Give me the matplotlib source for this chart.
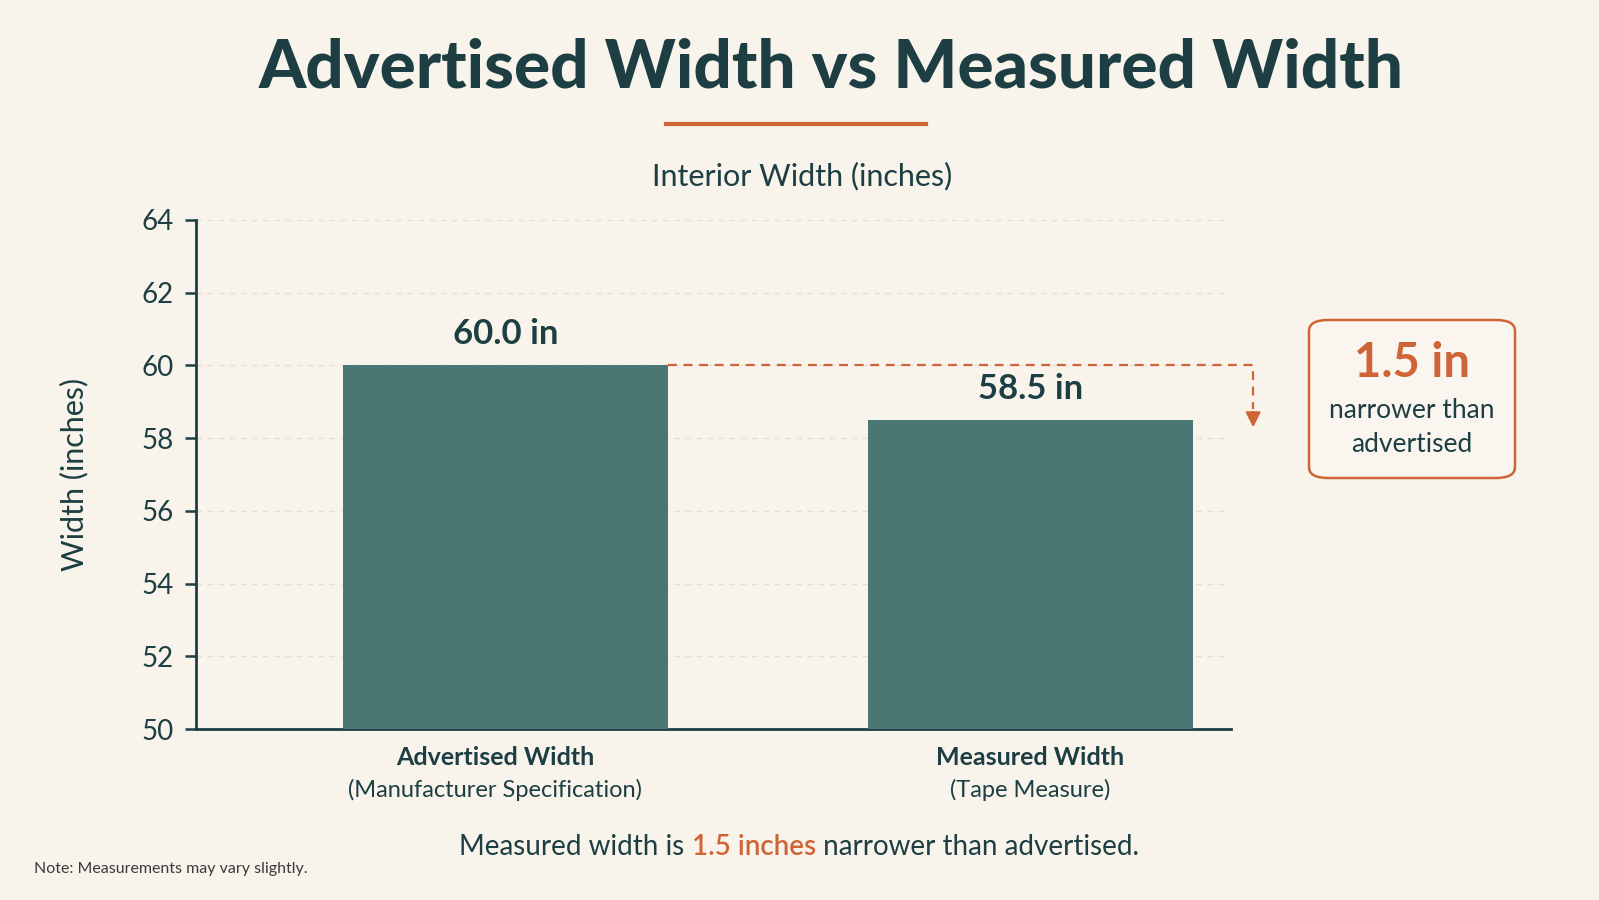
import matplotlib
matplotlib.use('Agg')
import matplotlib.pyplot as plt
from matplotlib.patches import FancyBboxPatch

# data
categories = ['Advertised Width', 'Measured Width']
subtitles = ['(Manufacturer Specification)', '(Tape Measure)']
widths = [60.0, 58.5]
y_ticks = [50, 52, 54, 56, 58, 60, 62, 64]
difference = widths[0] - widths[1]

bg = '#F8F4EC'
dark = '#1D3E42'
teal = '#4A7674'
orange = '#CF6437'
grid_col = '#E4DED3'

plt.rcParams['font.family'] = ['Lato', 'DejaVu Sans']

fig = plt.figure(figsize=(15.99, 9), dpi=100, facecolor=bg)
ax = fig.add_axes([0.1226, 0.19, 0.647, 0.5656])
ax.set_facecolor(bg)

x = list(range(len(categories)))
ax.bar(x, [w - 50 for w in widths], bottom=50, width=0.62, color=teal, zorder=3)
ax.set_xlim(-0.589, 1.381)
ax.set_ylim(50, 64)
ax.set_yticks(y_ticks)
ax.set_yticklabels([str(t) for t in y_ticks], fontsize=20, color=dark)
ax.tick_params(axis='y', length=8, width=1.8, color=dark, pad=8)
ax.set_xticks([])
for t in y_ticks[1:]:
    ax.axhline(t, color=grid_col, lw=1, ls=(0, (4, 4)), zorder=1)
for s in ['top', 'right']:
    ax.spines[s].set_visible(False)
for s in ['left', 'bottom']:
    ax.spines[s].set_color(dark)
    ax.spines[s].set_linewidth(2)
ax.set_ylabel('Width (inches)', fontsize=22, color=dark, labelpad=38)

# value labels
for xi, w in zip(x, widths):
    ax.text(xi, w + 0.85, f'{w:.1f} in', ha='center', va='center',
            fontsize=25, fontweight='bold', color=dark)

# category labels
for xi, c, s in zip(x, categories, subtitles):
    ax.text(xi - 0.02 * (1 - xi), 49.22, c, ha='center', va='center', fontsize=18,
            fontweight='bold', color=dark)
    ax.text(xi - 0.02 * (1 - xi), 48.33, s, ha='center', va='center', fontsize=17,
            color=dark, clip_on=False)

# dashed connector to the measured bar
x_end = 1.424
ax.plot([0.31, x_end, x_end], [widths[0], widths[0], 58.8], color=orange,
        lw=1.6, ls=(0, (4, 3)), clip_on=False, zorder=4)
ax.annotate('', xy=(x_end, 58.22), xytext=(x_end, 58.8),
            arrowprops=dict(arrowstyle='-|>,head_length=0.9,head_width=0.45',
                            color=orange, lw=1.6), annotation_clip=False)

# callout box
box = FancyBboxPatch((1309 / 1599, 1 - 478 / 900), 206 / 1599, 158 / 900,
                     boxstyle='round,pad=0,rounding_size=0.012',
                     transform=fig.transFigure, facecolor='#FAF6EF',
                     edgecolor=orange, lw=1.8)
fig.patches.append(box)
fig.text(1412 / 1599, 1 - 363 / 900, f'{difference:.1f} in', ha='center', va='center',
         fontsize=34, fontweight='bold', color=orange)
fig.text(1412 / 1599, 1 - 411 / 900, 'narrower than', ha='center', va='center',
         fontsize=19, color=dark)
fig.text(1412 / 1599, 1 - 444 / 900, 'advertised', ha='center', va='center',
         fontsize=19, color=dark)

# title
fig.text(831 / 1599, 1 - 69 / 900, 'Advertised Width vs Measured Width', ha='center',
         va='center', fontsize=48.5, fontweight='black', color=dark)
fig.add_artist(plt.Line2D([666 / 1599, 926 / 1599], [1 - 124 / 900, 1 - 124 / 900],
                          color=orange, lw=3))
fig.text(802 / 1599, 1 - 176 / 900, 'Interior Width (inches)', ha='center', va='center',
         fontsize=22, color=dark)

# summary line with highlighted value
parts = [('Measured width is ', dark, 'normal'),
         (f'{difference:.1f} inches', orange, 'semibold'),
         (' narrower than advertised.', dark, 'normal')]
fig.canvas.draw()
r = fig.canvas.get_renderer()
texts = []
for s, c, wgt in parts:
    t = fig.text(0, 1 - 847 / 900, s, ha='left', va='center', fontsize=20,
                 color=c, fontweight=wgt)
    texts.append(t)
ws = [t.get_window_extent(r).width for t in texts]
cur = 799 - sum(ws) / 2
for t, w in zip(texts, ws):
    t.set_x(cur / 1599)
    cur += w

fig.text(34 / 1599, 1 - 869 / 900, 'Note: Measurements may vary slightly.', ha='left',
         va='center', fontsize=11.5, color='#3A3A3A')

fig.savefig('out.png', dpi=100, facecolor=bg)
